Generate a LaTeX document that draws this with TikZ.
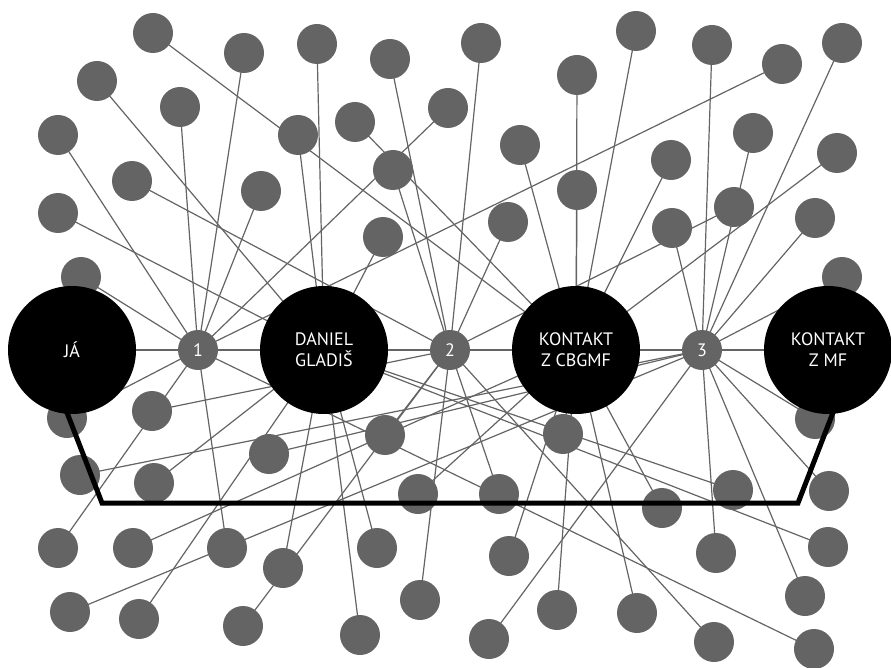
\documentclass[tikz,border=0pt]{standalone}
\usepackage{fontspec}
\newfontfamily\labfont{PT Sans}
\pgfdeclarelayer{background}
\pgfsetlayers{background,main}
\definecolor{netgray}{RGB}{100,100,100}
\tikzset{
  gc/.style={circle,fill=netgray,minimum size=40pt,inner sep=0pt},
  hub/.style={gc,text=white,font=\labfont\fontsize{18}{21}\selectfont},
  big/.style={circle,fill=black,minimum size=128pt,inner sep=0pt,text=white,align=center,font=\labfont\fontsize{18}{21}\selectfont},
  ln/.style={draw=netgray,line width=1.2pt},
  framepath/.style={draw=black,line width=5pt}
}
\begin{document}
\begin{tikzpicture}[x=1pt,y=-1pt]
\useasboundingbox (0,0) rectangle (891,668);
% gray contact circles
\foreach \n/\x/\y in {
 1/153/33, 2/244/53, 3/317/44, 4/390/59, 5/481/43, 6/636/31, 7/712/45, 8/842/43,
 9/97/81, 10/782/64, 11/577/75, 12/180/107, 13/355/122, 14/448/108, 15/58/135,
 16/298/135, 17/753/133, 18/520/145, 19/837/153, 20/671/160, 21/393/170,
 22/132/181, 23/261/191, 24/577/190, 25/58/213, 26/734/207, 27/508/222,
 28/672/228, 29/815/218, 30/383/237, 31/81/277, 32/842/277,
 33/67/418, 34/152/411, 35/269/454, 36/385/435, 37/563/434, 38/815/419,
 39/80/475, 40/154/483, 41/418/494, 42/499/494, 43/662/508, 44/733/490,
 45/829/491, 46/58/548, 47/133/548, 48/227/548, 49/283/568, 50/377/548,
 51/509/556, 52/716/553, 53/828/547, 54/70/612, 55/139/619, 56/243/626,
 57/360/635, 58/420/600, 59/489/639, 60/557/610, 61/637/613, 62/714/642,
 63/805/596, 64/814/649}
 {\node[gc] (c\n) at (\x,\y) {};}
% hubs
\node[hub] (H1) at (198,350) {1};
\node[hub] (H2) at (450,350) {2};
\node[hub] (H3) at (702,350) {3};
% frame line
\coordinate (ftl) at (66,410);
\coordinate (fbl) at (102,503);
\coordinate (fbr) at (798,503);
\coordinate (ftr) at (834,410);
\draw[framepath] (ftl) -- (fbl) -- (fbr) -- (ftr);
% main people
\node[big] (J) at (72,350) {JÁ};
\node[big] (D) at (324,350) {DANIEL\\GLADIŠ};
\node[big] (C) at (576,350) {KONTAKT\\Z CBGMF};
\node[big] (M) at (828,350) {KONTAKT\\Z MF};
% connectors
\begin{pgfonlayer}{background}
\draw[ln] (J.center) -- (H1.center) -- (D.center) -- (H2.center) -- (C.center) -- (H3.center) -- (M.center);
\foreach \a/\b in {
 c1/C, c2/H1, c3/D, c4/H2, c5/H2, c6/C, c7/H3, c8/H3, c9/D, c10/H1,
 c11/C, c12/H1, c13/C, c14/H1, c15/H1, c16/D, c17/H3, c18/C, c19/C, c20/C,
 c21/H2, c22/H2, c23/H1, c24/C, c25/D, c26/H2, c27/H2, c28/H3, c29/H3, c30/D,
 c31/H1, c32/H3, c33/H1, c34/H2, c35/H3, c36/H2, c37/C, c38/H3, c39/H3, c40/D,
 c41/C, c42/H2, c43/C, c44/D, c45/H3, c46/H1, c47/C, c48/H1, c49/D, c50/D,
 c51/C, c52/H3, c53/D, c54/H3, c55/D, c56/H2, c57/D, c58/H2, c59/H3, c60/C,
 c61/C, c62/H2, c63/H3, c64/H1}
 {\draw[ln] (\a.center) -- (\b.center);}
\end{pgfonlayer}
\end{tikzpicture}
\end{document}
